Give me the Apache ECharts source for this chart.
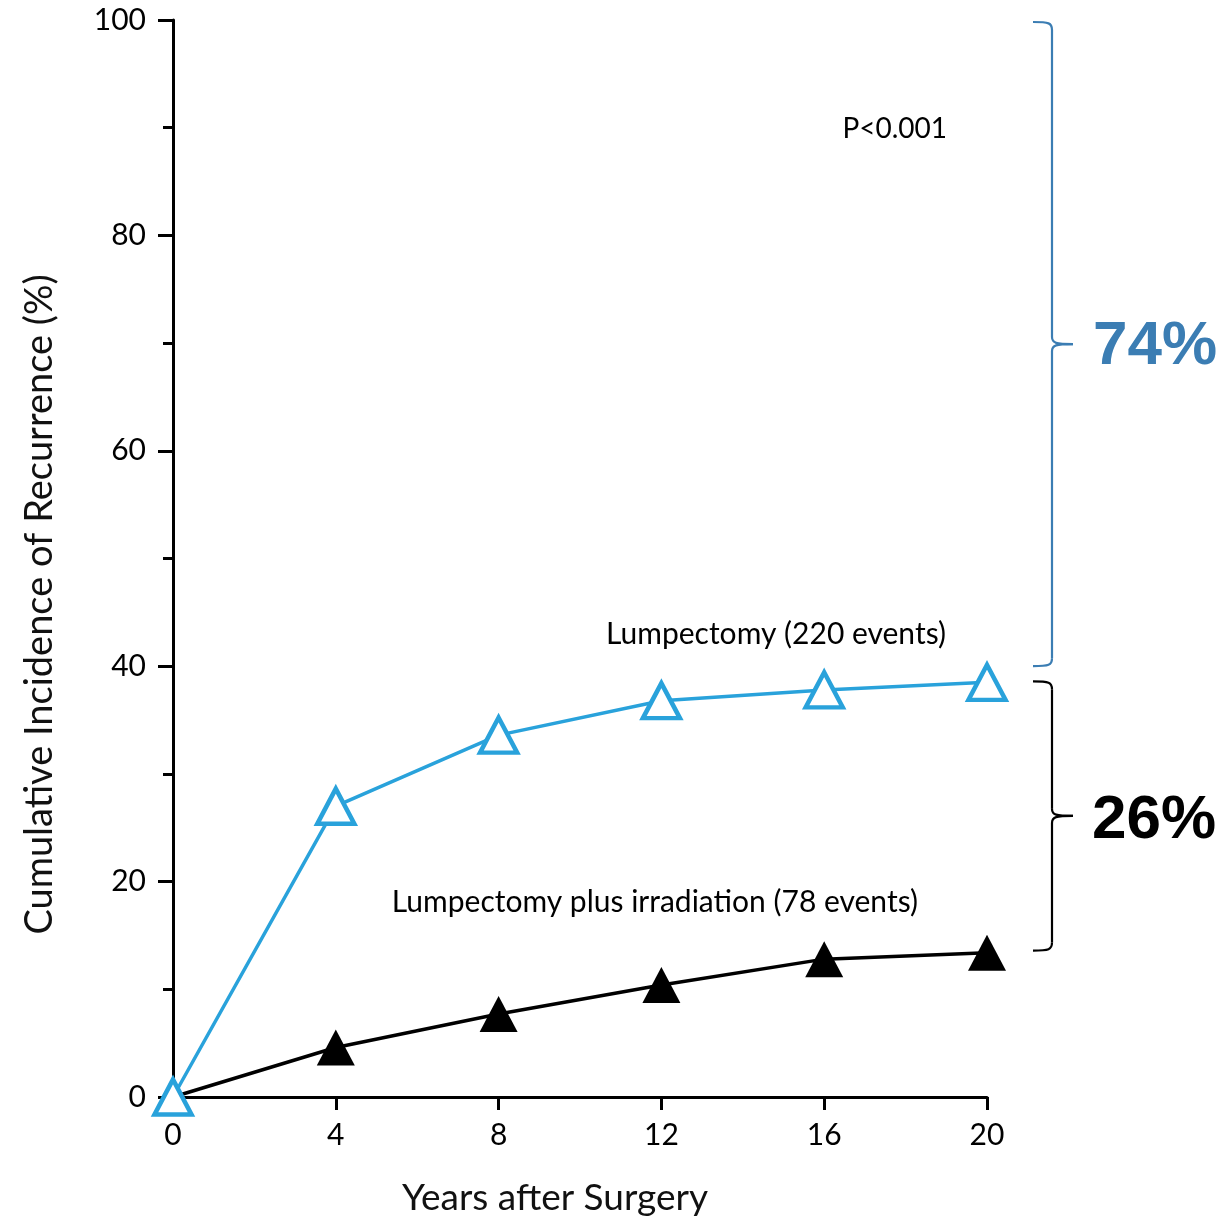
<!DOCTYPE html>
<html><head><meta charset="utf-8">
<script src="https://cdn.jsdelivr.net/npm/echarts@6/dist/echarts.min.js"></script>
<style>html,body{margin:0;padding:0;background:#fff}#c{width:1227px;height:1222px}</style>
</head><body><div id="c"></div>
<script>
// ---- data ----
const years = [0, 4, 8, 12, 16, 20];
const lumpectomy = [0, 27.0, 33.6, 36.8, 37.8, 38.5];
const lumpIrradiation = [0, 4.6, 7.7, 10.4, 12.8, 13.4];
const xTicks = [0, 4, 8, 12, 16, 20];
const yTicks = [0, 20, 40, 60, 80, 100];
const braceBlue = [100, 40];     // 74% bracket span (y values)
const braceBlack = [38.6, 13.6]; // 26% bracket span (y values)
const braceLabels = ['74%', '26%'];
const notes = ['P<0.001', 'Lumpectomy (220 events)', 'Lumpectomy plus irradiation (78 events)'];

const BLUE = '#29a2db';
const BRACE_BLUE = '#3b7db3';
const FONT = 'Lato, "Open Sans", sans-serif';

const chart = echarts.init(document.getElementById('c'), null, {renderer: 'canvas'});
const pairs = (ys) => years.map((x, i) => [x, ys[i]]);

chart.setOption({
  animation: false,
  backgroundColor: '#ffffff',
  grid: {left: 173, right: 240, top: 20, bottom: 123, containLabel: false},
  xAxis: {
    type: 'value', min: 0, max: 20, interval: 4,
    name: 'Years after Surgery', nameLocation: 'middle', nameGap: 83,
    nameTextStyle: {fontFamily: FONT, fontSize: 37, color: '#111', padding: [0, 50, 0, 0]},
    axisLine: {show: true, lineStyle: {color: '#000', width: 3}},
    axisTick: {show: true, inside: false, length: 13, lineStyle: {color: '#000', width: 3}},
    axisLabel: {margin: 23, fontFamily: FONT, fontSize: 30, color: '#000',
      formatter: (v) => xTicks.includes(v) ? String(v) : ''},
    splitLine: {show: false}
  },
  yAxis: {
    type: 'value', min: 0, max: 100, interval: 20,
    name: 'Cumulative Incidence of Recurrence (%)', nameLocation: 'middle', nameGap: 114,
    nameTextStyle: {fontFamily: FONT, fontSize: 38, color: '#111', padding: [0, 92, 0, 0]},
    axisLine: {show: true, lineStyle: {color: '#000', width: 3}},
    axisTick: {show: true, inside: false, length: 15, lineStyle: {color: '#000', width: 3}},
    minorTick: {show: true, splitNumber: 2, length: 10, lineStyle: {color: '#000', width: 3}},
    axisLabel: {margin: 27, fontFamily: FONT, fontSize: 30, color: '#000',
      formatter: (v) => yTicks.includes(v) ? String(v) : ''},
    splitLine: {show: false}
  },
  series: [
    {
      name: 'Lumpectomy plus irradiation', type: 'line', data: pairs(lumpIrradiation),
      clip: false, symbol: 'triangle', symbolSize: [38, 36],
      itemStyle: {color: '#000', borderColor: '#000', borderWidth: 0},
      lineStyle: {color: '#000', width: 3.5}, z: 2
    },
    {
      name: 'Lumpectomy', type: 'line', data: pairs(lumpectomy),
      clip: false, symbol: 'triangle', symbolSize: [37, 35],
      itemStyle: {color: '#fff', borderColor: BLUE, borderWidth: 4.5},
      lineStyle: {color: BLUE, width: 3.5}, z: 3
    }
  ]
});

function px(y) { return chart.convertToPixel({gridIndex: 0}, [20, y]); }

function brace(xv, y1, y2, color) {
  const ym = (y1 + y2) / 2, x0 = xv - 19, xt = xv + 21;
  const st = {stroke: color, lineWidth: 2.2, fill: null};
  return [
    {type: 'bezierCurve', shape: {x1: x0, y1: y1, x2: xv, y2: y1 + 8, cpx1: xv - 3, cpy1: y1, cpx2: xv, cpy2: y1 + 1}, style: st},
    {type: 'line', shape: {x1: xv, y1: y1 + 8, x2: xv, y2: ym - 7}, style: st},
    {type: 'bezierCurve', shape: {x1: xv, y1: ym - 7, x2: xt, y2: ym, cpx1: xv, cpy1: ym - 1, cpx2: xv + 4, cpy2: ym}, style: st},
    {type: 'bezierCurve', shape: {x1: xt, y1: ym, x2: xv, y2: ym + 7, cpx1: xv + 4, cpy1: ym, cpx2: xv, cpy2: ym + 1}, style: st},
    {type: 'line', shape: {x1: xv, y1: ym + 7, x2: xv, y2: y2 - 8}, style: st},
    {type: 'bezierCurve', shape: {x1: xv, y1: y2 - 8, x2: x0, y2: y2, cpx1: xv, cpy1: y2 - 1, cpx2: xv - 3, cpy2: y2}, style: st}
  ];
}

const xr = px(20)[0];
const bx = xr + 65;
const b1 = [px(braceBlue[0])[1] + 2, px(braceBlue[1])[1]];
const b2 = [px(braceBlack[0])[1], px(braceBlack[1])[1]];
const graphics = [].concat(
  brace(bx, b1[0], b1[1], BRACE_BLUE),
  brace(bx, b2[0], b2[1], '#000'),
  [
    {type: 'text', x: bx + 41, y: (b1[0] + b1[1]) / 2 + 3, style: {text: braceLabels[0], fill: BRACE_BLUE,
      font: 'bold 62px "Liberation Sans", Arial, sans-serif', textAlign: 'left', textVerticalAlign: 'middle'}},
    {type: 'text', x: bx + 40, y: (b2[0] + b2[1]) / 2 + 5, style: {text: braceLabels[1], fill: '#000',
      font: 'bold 62px "Liberation Sans", Arial, sans-serif', textAlign: 'left', textVerticalAlign: 'middle'}},
    {type: 'text', x: 947, y: 129, style: {text: notes[0], fill: '#000', font: '28px ' + FONT, textAlign: 'right', textVerticalAlign: 'middle'}},
    {type: 'text', x: 946, y: 634, style: {text: notes[1], fill: '#000', font: '30px ' + FONT, textAlign: 'right', textVerticalAlign: 'middle'}},
    {type: 'text', x: 918, y: 902, style: {text: notes[2], fill: '#000', font: '30px ' + FONT, textAlign: 'right', textVerticalAlign: 'middle'}}
  ]
);
chart.setOption({graphic: graphics});
</script>
</body></html>
